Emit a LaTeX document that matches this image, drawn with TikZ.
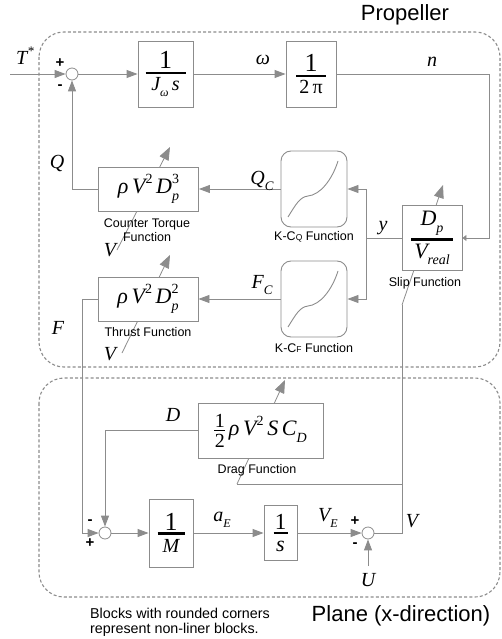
\documentclass[tikz,border=0pt]{standalone}
\usepackage{fontspec}
\setmainfont{Liberation Sans}
\newfontfamily\tms{Liberation Serif}
\usetikzlibrary{arrows.meta}
\definecolor{ln}{RGB}{140,140,140}
\newcommand\ms[1]{\fontsize{#1}{#1}\selectfont}
\newcommand\mi[1]{{\tms\itshape #1}}
\newcommand\fr[4]{$\vcenter{\offinterlineskip\hbox to #1{\hss#3\hss}\kern3pt\hrule height #2\kern3pt\hbox to #1{\hss#4\hss}}$}
\newcommand\frk[5]{$\vcenter{\offinterlineskip\hbox to #1{\hss#4\hss}\kern2pt\hrule height #2\kern#3\hbox to #1{\hss#5\hss}}$}
\newcommand\up[2][14]{\raisebox{.45em}{\ms{#1}\tms #2}}
\newcommand\dn[2][14]{\raisebox{-.3em}{\ms{#1}\tms #2}}
\newcommand\updn[2]{\rlap{\up{#1}}\dn{#2}}
\newcommand\scurve[1]{\draw[crv] ([shift={(-26,28)}]#1.center) .. controls ([shift={(-18,15)}]#1.center) and ([shift={(-14,8)}]#1.center) .. ([shift={(-6,7)}]#1.center) .. controls ([shift={(6,6)}]#1.center) and ([shift={(18,-9)}]#1.center) .. ([shift={(24,-28)}]#1.center);}
\tikzset{
  blk/.style={draw=ln, line width=0.9pt, fill=white, inner sep=0pt},
  rblk/.style={blk, rounded corners=10pt},
  sumc/.style={circle, draw=ln, fill=white, minimum size=12pt, inner sep=0pt, line width=0.8pt},
  wire/.style={draw=ln, line width=0.9pt},
  arr/.style={wire, -{Triangle[length=11pt,width=8pt]}},
  var/.style={wire, line width=0.8pt, -{Triangle[length=13pt,width=10pt]}},
  crv/.style={draw=ln, line width=0.9pt},
  lab/.style={font=\ms{20}\tms\itshape, inner sep=0pt},
  sgn/.style={font=\ms{15}\bfseries, inner sep=0pt},
  capt/.style={font=\ms{12.5}, inner sep=0pt, align=center},
  frame/.style={draw=ln, line width=1.1pt, dash pattern=on 3pt off 2.2pt, rounded corners=25pt}
}
\begin{document}
\begin{tikzpicture}[x=1pt,y=-1pt]
\useasboundingbox (0,0) rectangle (502,639);
\draw[frame] (39,32) rectangle (500,367);
\draw[frame] (39,378) rectangle (500,597);
% free coordinates
\coordinate (tin) at (10,74);
\coordinate (cn) at (489,74);
\coordinate (cn2) at (489,238);
\coordinate (cy) at (366,238);
\coordinate (cF) at (82,533);
\coordinate (cU) at (368,566);
\coordinate (cV) at (402,533);
\coordinate (cV2) at (402,484);
\coordinate (cV3) at (402,305);
\coordinate (cSt) at (443,185);
\coordinate (cD0) at (237,484);
\coordinate (cDt) at (285,380);
\coordinate (cC0) at (117,250);
\coordinate (cCt) at (170,147);
\coordinate (cT0) at (122,353);
\coordinate (cTt) at (170,255);
% parameter (diagonal) arrows, drawn under the blocks
\draw[var] (cV3) -- (cSt);
\draw[var] (cD0) -- (cDt);
\draw[var] (cC0) -- (cCt);
\draw[var] (cT0) -- (cTt);
\draw[wire] (cV2) -- (cD0);
% blocks
\node[sumc] (s1) at (72,74) {};
\node[blk, minimum width=55pt, minimum height=66pt] (bJ) at (165.5,74)
  {\fr{40pt}{2.5pt}{\ms{26}\tms 1}{\ms{20}\mi{J}\dn[12]{\mi{ω}}\,\mi{s}}};
\node[blk, minimum width=50pt, minimum height=66pt] (b2) at (311,74)
  {\fr{30pt}{2.5pt}{\ms{26}\tms 1}{\ms{20}\tms 2\,π}};
\node[blk, minimum width=100pt, minimum height=44pt] (bCT) at (148.5,189)
  {\ms{22}\mi{ρ\,V}\up{2}\,\mi{D}\updn{3}{\mi{p}}};
\node[blk, minimum width=100pt, minimum height=44pt] (bTh) at (148,299)
  {\ms{22}\mi{ρ\,V}\up{2}\,\mi{D}\updn{2}{\mi{p}}};
\node[rblk, minimum width=66pt, minimum height=76pt] (bKQ) at (314,189) {};
\node[rblk, minimum width=66pt, minimum height=76pt] (bKF) at (314,299) {};
\scurve{bKQ}
\scurve{bKF}
\node[blk, minimum width=60pt, minimum height=65pt] (bSl) at (432,238)
  {\fr{42pt}{2.5pt}{\ms{22}\mi{D}\dn{\mi{p}}}{\ms{22}\mi{V}\dn{\mi{real}}}};
\node[blk, minimum width=125pt, minimum height=55pt] (bDr) at (260.5,430.5)
  {\ms{22}\fr{11pt}{0.9pt}{\ms{20}\tms 1}{\ms{20}\tms 2}\,\mi{ρ\,V}\up{2}\,\mi{S\,C}\dn{\mi{D}}};
\node[sumc] (s2) at (105,533) {};
\node[blk, minimum width=44pt, minimum height=68pt] (bM) at (171,533)
  {\frk{27pt}{2.5pt}{5pt}{\ms{26}\tms 1}{\ms{20}\mi{M}}};
\node[blk, minimum width=33pt, minimum height=55pt] (bS) at (280.5,533)
  {\frk{14pt}{2.2pt}{7pt}{\ms{23}\tms 1}{\ms{22}\mi{s}}};
\node[sumc] (s3) at (368,533) {};
% connectors
\draw[arr] (tin) -- (s1);
\draw[arr] (s1) -- (bJ);
\draw[arr] (bJ) -- (b2);
\draw[wire, -{Triangle[length=4pt,width=6pt]}] (b2.east) -- (cn) -- (cn2) -- (bSl.east);
\draw[wire] (bSl.west) -- (cy);
\draw[arr] (cy) |- (bKQ.east);
\draw[arr] (cy) |- (bKF.east);
\draw[arr] (bKQ) -- (bCT);
\draw[arr] (bKF) -- (bTh);
\draw[arr] (bCT.west) -| (s1.south);
\draw[arr] (bTh.west) -| (cF) -- (s2.west);
\draw[arr] (bDr.west) -| (s2.north);
\draw[arr] (s2) -- (bM);
\draw[arr] (bM) -- (bS);
\draw[arr] (bS) -- (s3);
\draw[arr] (cU) -- (s3);
\draw[wire] (s3.east) -- (cV) -- (cV3);
% block captions
\node[capt] (cCT) at (147,230) {Counter Torque\\[1pt]Function};
\node[capt] (cTh) at (148,332) {Thrust Function};
\node[capt] (cKQ) at (314,237) {K-C{\ms{8.5}Q} Function};
\node[capt] (cKF) at (314,348) {K-C{\ms{8.5}F} Function};
\node[capt] (cSl) at (425,283) {Slip Function};
\node[capt] (cDr) at (257,470) {Drag Function};
% signal labels
\node[lab] (lT) at (25,56) {T\up[13]{*}};
\node[lab] (lw) at (263,60) {ω};
\node[lab] (ln) at (432,62) {n};
\node[lab] (lQ) at (57,163) {Q};
\node[lab] (lQC) at (262,181) {Q\dn[13]{C}};
\node[lab] (ly) at (383,228) {y};
\node[lab] (lFC) at (262,285) {F\dn[13]{C}};
\node[lab] (lF) at (58,328) {F};
\node[lab] (lV1) at (110,250) {V};
\node[lab] (lV2) at (110,354) {V};
\node[lab] (lD) at (173,415) {D};
\node[lab] (laE) at (222,520) {a\dn[12]{E}};
\node[lab] (lVE) at (328,518) {V\dn[12]{E}};
\node[lab] (lV3) at (412,521) {V};
\node[lab] (lU) at (368,580) {U};
% signs
\node[sgn] (p1) at (60,63) {+};
\node[sgn] (m1) at (60,87) {-};
\node[sgn] (m2) at (90,522) {-};
\node[sgn] (p2) at (90,543) {+};
\node[sgn] (p3) at (355,521) {+};
\node[sgn] (m3) at (355,545) {-};
% titles and note
\node[font=\ms{22}, inner sep=0pt] (tP) at (405,15) {Propeller};
\node[font=\ms{22}, inner sep=0pt] (tPl) at (401,616) {Plane (x-direction)};
\node[font=\ms{14.3}, inner sep=0pt, align=left, anchor=base west] (note) at (90,633)
  {Blocks with rounded corners\\[0.7pt]represent non-liner blocks.};
\end{tikzpicture}
\end{document}
